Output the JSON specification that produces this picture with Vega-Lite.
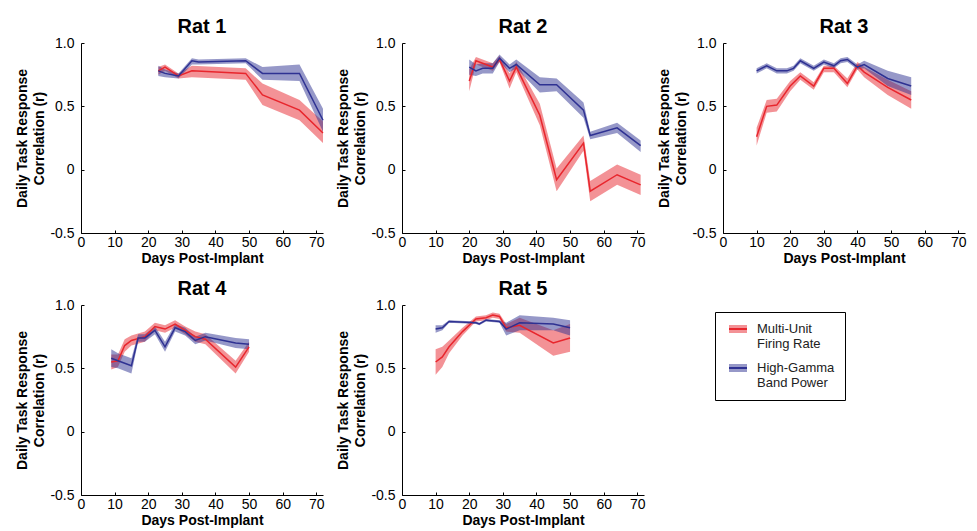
{
  "$schema": "https://vega.github.io/schema/vega-lite/v6.json",
  "background": "white",
  "padding": {"left": 15, "top": 17, "right": 5, "bottom": 2},
  "bounds": "flush",
  "columns": 3,
  "spacing": {"row": 72, "column": 79},
  "data": {"values": [
    {"rat":"Rat 1","series":"Multi-Unit Firing Rate","day":23,"r":0.78,"lo":0.75,"hi":0.81},
    {"rat":"Rat 1","series":"Multi-Unit Firing Rate","day":25,"r":0.81,"lo":0.78,"hi":0.83},
    {"rat":"Rat 1","series":"Multi-Unit Firing Rate","day":29,"r":0.74,"lo":0.72,"hi":0.76},
    {"rat":"Rat 1","series":"Multi-Unit Firing Rate","day":33,"r":0.78,"lo":0.73,"hi":0.82},
    {"rat":"Rat 1","series":"Multi-Unit Firing Rate","day":49,"r":0.76,"lo":0.71,"hi":0.80},
    {"rat":"Rat 1","series":"Multi-Unit Firing Rate","day":54,"r":0.59,"lo":0.51,"hi":0.68},
    {"rat":"Rat 1","series":"Multi-Unit Firing Rate","day":65,"r":0.47,"lo":0.39,"hi":0.55},
    {"rat":"Rat 1","series":"Multi-Unit Firing Rate","day":72,"r":0.29,"lo":0.21,"hi":0.38},
    {"rat":"Rat 1","series":"High-Gamma Band Power","day":23,"r":0.78,"lo":0.74,"hi":0.82},
    {"rat":"Rat 1","series":"High-Gamma Band Power","day":25,"r":0.76,"lo":0.73,"hi":0.79},
    {"rat":"Rat 1","series":"High-Gamma Band Power","day":29,"r":0.74,"lo":0.72,"hi":0.76},
    {"rat":"Rat 1","series":"High-Gamma Band Power","day":33,"r":0.86,"lo":0.83,"hi":0.88},
    {"rat":"Rat 1","series":"High-Gamma Band Power","day":35,"r":0.85,"lo":0.83,"hi":0.87},
    {"rat":"Rat 1","series":"High-Gamma Band Power","day":49,"r":0.86,"lo":0.84,"hi":0.88},
    {"rat":"Rat 1","series":"High-Gamma Band Power","day":54,"r":0.76,"lo":0.71,"hi":0.81},
    {"rat":"Rat 1","series":"High-Gamma Band Power","day":65,"r":0.76,"lo":0.70,"hi":0.83},
    {"rat":"Rat 1","series":"High-Gamma Band Power","day":72,"r":0.39,"lo":0.30,"hi":0.48},

    {"rat":"Rat 2","series":"Multi-Unit Firing Rate","day":20,"r":0.70,"lo":0.62,"hi":0.79},
    {"rat":"Rat 2","series":"Multi-Unit Firing Rate","day":22,"r":0.86,"lo":0.83,"hi":0.89},
    {"rat":"Rat 2","series":"Multi-Unit Firing Rate","day":27,"r":0.81,"lo":0.78,"hi":0.84},
    {"rat":"Rat 2","series":"Multi-Unit Firing Rate","day":29,"r":0.87,"lo":0.85,"hi":0.90},
    {"rat":"Rat 2","series":"Multi-Unit Firing Rate","day":32,"r":0.70,"lo":0.64,"hi":0.76},
    {"rat":"Rat 2","series":"Multi-Unit Firing Rate","day":34,"r":0.81,"lo":0.77,"hi":0.85},
    {"rat":"Rat 2","series":"Multi-Unit Firing Rate","day":41,"r":0.43,"lo":0.35,"hi":0.52},
    {"rat":"Rat 2","series":"Multi-Unit Firing Rate","day":46,"r":-0.08,"lo":-0.17,"hi":0.01},
    {"rat":"Rat 2","series":"Multi-Unit Firing Rate","day":54,"r":0.21,"lo":0.15,"hi":0.27},
    {"rat":"Rat 2","series":"Multi-Unit Firing Rate","day":56,"r":-0.17,"lo":-0.25,"hi":-0.09},
    {"rat":"Rat 2","series":"Multi-Unit Firing Rate","day":64,"r":-0.04,"lo":-0.12,"hi":0.04},
    {"rat":"Rat 2","series":"Multi-Unit Firing Rate","day":71,"r":-0.12,"lo":-0.20,"hi":-0.04},
    {"rat":"Rat 2","series":"High-Gamma Band Power","day":20,"r":0.81,"lo":0.75,"hi":0.87},
    {"rat":"Rat 2","series":"High-Gamma Band Power","day":22,"r":0.78,"lo":0.74,"hi":0.83},
    {"rat":"Rat 2","series":"High-Gamma Band Power","day":24,"r":0.80,"lo":0.76,"hi":0.84},
    {"rat":"Rat 2","series":"High-Gamma Band Power","day":27,"r":0.80,"lo":0.76,"hi":0.84},
    {"rat":"Rat 2","series":"High-Gamma Band Power","day":29,"r":0.88,"lo":0.85,"hi":0.91},
    {"rat":"Rat 2","series":"High-Gamma Band Power","day":32,"r":0.80,"lo":0.77,"hi":0.83},
    {"rat":"Rat 2","series":"High-Gamma Band Power","day":34,"r":0.83,"lo":0.80,"hi":0.87},
    {"rat":"Rat 2","series":"High-Gamma Band Power","day":41,"r":0.67,"lo":0.61,"hi":0.73},
    {"rat":"Rat 2","series":"High-Gamma Band Power","day":46,"r":0.67,"lo":0.62,"hi":0.72},
    {"rat":"Rat 2","series":"High-Gamma Band Power","day":54,"r":0.47,"lo":0.41,"hi":0.53},
    {"rat":"Rat 2","series":"High-Gamma Band Power","day":56,"r":0.27,"lo":0.24,"hi":0.30},
    {"rat":"Rat 2","series":"High-Gamma Band Power","day":64,"r":0.33,"lo":0.29,"hi":0.37},
    {"rat":"Rat 2","series":"High-Gamma Band Power","day":71,"r":0.19,"lo":0.14,"hi":0.23},

    {"rat":"Rat 3","series":"Multi-Unit Firing Rate","day":10,"r":0.26,"lo":0.19,"hi":0.33},
    {"rat":"Rat 3","series":"Multi-Unit Firing Rate","day":13,"r":0.50,"lo":0.45,"hi":0.55},
    {"rat":"Rat 3","series":"Multi-Unit Firing Rate","day":16,"r":0.51,"lo":0.46,"hi":0.56},
    {"rat":"Rat 3","series":"Multi-Unit Firing Rate","day":20,"r":0.66,"lo":0.62,"hi":0.70},
    {"rat":"Rat 3","series":"Multi-Unit Firing Rate","day":23,"r":0.74,"lo":0.71,"hi":0.77},
    {"rat":"Rat 3","series":"Multi-Unit Firing Rate","day":27,"r":0.66,"lo":0.63,"hi":0.69},
    {"rat":"Rat 3","series":"Multi-Unit Firing Rate","day":30,"r":0.80,"lo":0.77,"hi":0.82},
    {"rat":"Rat 3","series":"Multi-Unit Firing Rate","day":33,"r":0.80,"lo":0.77,"hi":0.82},
    {"rat":"Rat 3","series":"Multi-Unit Firing Rate","day":37,"r":0.68,"lo":0.65,"hi":0.72},
    {"rat":"Rat 3","series":"Multi-Unit Firing Rate","day":40,"r":0.82,"lo":0.79,"hi":0.85},
    {"rat":"Rat 3","series":"Multi-Unit Firing Rate","day":42,"r":0.77,"lo":0.73,"hi":0.81},
    {"rat":"Rat 3","series":"Multi-Unit Firing Rate","day":49,"r":0.65,"lo":0.59,"hi":0.71},
    {"rat":"Rat 3","series":"Multi-Unit Firing Rate","day":56,"r":0.55,"lo":0.48,"hi":0.62},
    {"rat":"Rat 3","series":"High-Gamma Band Power","day":10,"r":0.78,"lo":0.76,"hi":0.80},
    {"rat":"Rat 3","series":"High-Gamma Band Power","day":13,"r":0.82,"lo":0.80,"hi":0.84},
    {"rat":"Rat 3","series":"High-Gamma Band Power","day":16,"r":0.78,"lo":0.76,"hi":0.80},
    {"rat":"Rat 3","series":"High-Gamma Band Power","day":19,"r":0.78,"lo":0.76,"hi":0.80},
    {"rat":"Rat 3","series":"High-Gamma Band Power","day":21,"r":0.80,"lo":0.78,"hi":0.82},
    {"rat":"Rat 3","series":"High-Gamma Band Power","day":23,"r":0.86,"lo":0.84,"hi":0.88},
    {"rat":"Rat 3","series":"High-Gamma Band Power","day":27,"r":0.80,"lo":0.78,"hi":0.82},
    {"rat":"Rat 3","series":"High-Gamma Band Power","day":30,"r":0.85,"lo":0.83,"hi":0.87},
    {"rat":"Rat 3","series":"High-Gamma Band Power","day":33,"r":0.82,"lo":0.80,"hi":0.84},
    {"rat":"Rat 3","series":"High-Gamma Band Power","day":35,"r":0.86,"lo":0.84,"hi":0.88},
    {"rat":"Rat 3","series":"High-Gamma Band Power","day":37,"r":0.87,"lo":0.85,"hi":0.89},
    {"rat":"Rat 3","series":"High-Gamma Band Power","day":40,"r":0.81,"lo":0.79,"hi":0.83},
    {"rat":"Rat 3","series":"High-Gamma Band Power","day":42,"r":0.83,"lo":0.80,"hi":0.86},
    {"rat":"Rat 3","series":"High-Gamma Band Power","day":49,"r":0.72,"lo":0.66,"hi":0.78},
    {"rat":"Rat 3","series":"High-Gamma Band Power","day":56,"r":0.66,"lo":0.59,"hi":0.73},

    {"rat":"Rat 4","series":"Multi-Unit Firing Rate","day":9,"r":0.55,"lo":0.49,"hi":0.61},
    {"rat":"Rat 4","series":"Multi-Unit Firing Rate","day":11,"r":0.56,"lo":0.51,"hi":0.61},
    {"rat":"Rat 4","series":"Multi-Unit Firing Rate","day":13,"r":0.68,"lo":0.63,"hi":0.73},
    {"rat":"Rat 4","series":"Multi-Unit Firing Rate","day":15,"r":0.72,"lo":0.68,"hi":0.76},
    {"rat":"Rat 4","series":"Multi-Unit Firing Rate","day":19,"r":0.75,"lo":0.71,"hi":0.79},
    {"rat":"Rat 4","series":"Multi-Unit Firing Rate","day":22,"r":0.83,"lo":0.80,"hi":0.86},
    {"rat":"Rat 4","series":"Multi-Unit Firing Rate","day":25,"r":0.81,"lo":0.78,"hi":0.84},
    {"rat":"Rat 4","series":"Multi-Unit Firing Rate","day":28,"r":0.85,"lo":0.82,"hi":0.88},
    {"rat":"Rat 4","series":"Multi-Unit Firing Rate","day":31,"r":0.80,"lo":0.77,"hi":0.83},
    {"rat":"Rat 4","series":"Multi-Unit Firing Rate","day":34,"r":0.75,"lo":0.71,"hi":0.79},
    {"rat":"Rat 4","series":"Multi-Unit Firing Rate","day":37,"r":0.73,"lo":0.69,"hi":0.77},
    {"rat":"Rat 4","series":"Multi-Unit Firing Rate","day":46,"r":0.51,"lo":0.46,"hi":0.56},
    {"rat":"Rat 4","series":"Multi-Unit Firing Rate","day":50,"r":0.67,"lo":0.63,"hi":0.71},
    {"rat":"Rat 4","series":"High-Gamma Band Power","day":9,"r":0.58,"lo":0.51,"hi":0.65},
    {"rat":"Rat 4","series":"High-Gamma Band Power","day":11,"r":0.56,"lo":0.50,"hi":0.62},
    {"rat":"Rat 4","series":"High-Gamma Band Power","day":15,"r":0.52,"lo":0.46,"hi":0.58},
    {"rat":"Rat 4","series":"High-Gamma Band Power","day":17,"r":0.74,"lo":0.71,"hi":0.77},
    {"rat":"Rat 4","series":"High-Gamma Band Power","day":19,"r":0.74,"lo":0.71,"hi":0.77},
    {"rat":"Rat 4","series":"High-Gamma Band Power","day":22,"r":0.80,"lo":0.77,"hi":0.83},
    {"rat":"Rat 4","series":"High-Gamma Band Power","day":25,"r":0.67,"lo":0.63,"hi":0.71},
    {"rat":"Rat 4","series":"High-Gamma Band Power","day":28,"r":0.82,"lo":0.79,"hi":0.85},
    {"rat":"Rat 4","series":"High-Gamma Band Power","day":31,"r":0.79,"lo":0.76,"hi":0.82},
    {"rat":"Rat 4","series":"High-Gamma Band Power","day":34,"r":0.72,"lo":0.69,"hi":0.75},
    {"rat":"Rat 4","series":"High-Gamma Band Power","day":37,"r":0.75,"lo":0.72,"hi":0.78},
    {"rat":"Rat 4","series":"High-Gamma Band Power","day":46,"r":0.70,"lo":0.66,"hi":0.74},
    {"rat":"Rat 4","series":"High-Gamma Band Power","day":50,"r":0.69,"lo":0.65,"hi":0.73},

    {"rat":"Rat 5","series":"Multi-Unit Firing Rate","day":10,"r":0.55,"lo":0.45,"hi":0.65},
    {"rat":"Rat 5","series":"Multi-Unit Firing Rate","day":12,"r":0.59,"lo":0.51,"hi":0.67},
    {"rat":"Rat 5","series":"Multi-Unit Firing Rate","day":14,"r":0.67,"lo":0.62,"hi":0.72},
    {"rat":"Rat 5","series":"Multi-Unit Firing Rate","day":18,"r":0.79,"lo":0.76,"hi":0.82},
    {"rat":"Rat 5","series":"Multi-Unit Firing Rate","day":22,"r":0.89,"lo":0.87,"hi":0.91},
    {"rat":"Rat 5","series":"Multi-Unit Firing Rate","day":25,"r":0.90,"lo":0.88,"hi":0.92},
    {"rat":"Rat 5","series":"Multi-Unit Firing Rate","day":27,"r":0.92,"lo":0.90,"hi":0.94},
    {"rat":"Rat 5","series":"Multi-Unit Firing Rate","day":29,"r":0.91,"lo":0.89,"hi":0.93},
    {"rat":"Rat 5","series":"Multi-Unit Firing Rate","day":31,"r":0.82,"lo":0.79,"hi":0.85},
    {"rat":"Rat 5","series":"Multi-Unit Firing Rate","day":35,"r":0.84,"lo":0.78,"hi":0.90},
    {"rat":"Rat 5","series":"Multi-Unit Firing Rate","day":45,"r":0.70,"lo":0.60,"hi":0.80},
    {"rat":"Rat 5","series":"Multi-Unit Firing Rate","day":50,"r":0.74,"lo":0.63,"hi":0.85},
    {"rat":"Rat 5","series":"High-Gamma Band Power","day":10,"r":0.81,"lo":0.78,"hi":0.84},
    {"rat":"Rat 5","series":"High-Gamma Band Power","day":12,"r":0.82,"lo":0.80,"hi":0.84},
    {"rat":"Rat 5","series":"High-Gamma Band Power","day":14,"r":0.87,"lo":0.86,"hi":0.88},
    {"rat":"Rat 5","series":"High-Gamma Band Power","day":22,"r":0.86,"lo":0.85,"hi":0.87},
    {"rat":"Rat 5","series":"High-Gamma Band Power","day":23,"r":0.85,"lo":0.84,"hi":0.86},
    {"rat":"Rat 5","series":"High-Gamma Band Power","day":25,"r":0.88,"lo":0.87,"hi":0.89},
    {"rat":"Rat 5","series":"High-Gamma Band Power","day":29,"r":0.87,"lo":0.86,"hi":0.88},
    {"rat":"Rat 5","series":"High-Gamma Band Power","day":31,"r":0.81,"lo":0.76,"hi":0.86},
    {"rat":"Rat 5","series":"High-Gamma Band Power","day":35,"r":0.86,"lo":0.80,"hi":0.92},
    {"rat":"Rat 5","series":"High-Gamma Band Power","day":45,"r":0.85,"lo":0.80,"hi":0.90},
    {"rat":"Rat 5","series":"High-Gamma Band Power","day":50,"r":0.82,"lo":0.76,"hi":0.88}
  ]},
  "concat": [
    {
      "width": 242, "height": 190, "title": "Rat 1",
      "transform": [{"filter": "datum.rat == 'Rat 1'"}],
      "encoding": {"x": {"field": "day", "type": "quantitative", "scale": {"domain": [0, 72], "nice": false, "zero": false}, "axis": {"title": "Days Post-Implant", "values": [0,10,20,30,40,50,60,70], "labelFlush": false}}},
      "layer": [
        {"mark": {"type": "area"}, "encoding": {
          "y": {"field": "lo", "type": "quantitative", "scale": {"domain": [-0.5, 1.0], "nice": false}, "axis": {"title": ["Daily Task Response", "Correlation (r)"], "values": [-0.5, 0, 0.5, 1], "labelExpr": "datum.value == 1 ? '1.0' : datum.value == 0.5 ? '0.5' : datum.value == 0 ? '0' : '-0.5'"}},
          "y2": {"field": "hi"},
          "fill": {"field": "series", "type": "nominal", "scale": {"domain": ["Multi-Unit Firing Rate", "High-Gamma Band Power"], "range": ["#e8262d", "#2e3192"]}, "legend": {"orient": "none", "legendX": 634, "legendY": 269, "title": null, "symbolType": "M-1.5,0L1.5,0L1.5,-0.65L-1.5,-0.65L-1.5,0.65L1.5,0.65L1.5,0", "symbolSize": 144, "symbolStrokeWidth": 2, "symbolDash": [18, 300], "symbolOffset": 6, "labelExpr": "datum.label == 'Multi-Unit Firing Rate' ? ['Multi-Unit', 'Firing Rate'] : ['High-Gamma', 'Band Power']"}}
        }},
        {"mark": {"type": "line", "strokeWidth": 1.5}, "encoding": {
          "y": {"field": "r", "type": "quantitative", "scale": {"domain": [-0.5, 1.0], "nice": false}, "axis": {"title": ["Daily Task Response", "Correlation (r)"], "values": [-0.5, 0, 0.5, 1], "labelExpr": "datum.value == 1 ? '1.0' : datum.value == 0.5 ? '0.5' : datum.value == 0 ? '0' : '-0.5'"}},
          "stroke": {"field": "series", "type": "nominal", "scale": {"domain": ["Multi-Unit Firing Rate", "High-Gamma Band Power"], "range": ["#e8262d", "#2e3192"]}, "legend": {"orient": "none", "legendX": 634, "legendY": 269, "title": null, "symbolType": "M-1.5,0L1.5,0L1.5,-0.65L-1.5,-0.65L-1.5,0.65L1.5,0.65L1.5,0", "symbolSize": 144, "symbolStrokeWidth": 2, "symbolDash": [18, 300], "symbolOffset": 6, "labelExpr": "datum.label == 'Multi-Unit Firing Rate' ? ['Multi-Unit', 'Firing Rate'] : ['High-Gamma', 'Band Power']"}}
        }}
      ]
    },
    {
      "width": 242, "height": 190, "title": "Rat 2",
      "transform": [{"filter": "datum.rat == 'Rat 2'"}],
      "encoding": {"x": {"field": "day", "type": "quantitative", "scale": {"domain": [0, 72], "nice": false, "zero": false}, "axis": {"title": "Days Post-Implant", "values": [0,10,20,30,40,50,60,70], "labelFlush": false}}},
      "layer": [
        {"mark": {"type": "area"}, "encoding": {
          "y": {"field": "lo", "type": "quantitative", "scale": {"domain": [-0.5, 1.0], "nice": false}, "axis": {"title": ["Daily Task Response", "Correlation (r)"], "values": [-0.5, 0, 0.5, 1], "labelExpr": "datum.value == 1 ? '1.0' : datum.value == 0.5 ? '0.5' : datum.value == 0 ? '0' : '-0.5'"}},
          "y2": {"field": "hi"},
          "fill": {"field": "series", "type": "nominal", "legend": null}
        }},
        {"mark": {"type": "line", "strokeWidth": 1.5}, "encoding": {
          "y": {"field": "r", "type": "quantitative", "scale": {"domain": [-0.5, 1.0], "nice": false}, "axis": {"title": ["Daily Task Response", "Correlation (r)"], "values": [-0.5, 0, 0.5, 1], "labelExpr": "datum.value == 1 ? '1.0' : datum.value == 0.5 ? '0.5' : datum.value == 0 ? '0' : '-0.5'"}},
          "stroke": {"field": "series", "type": "nominal", "legend": null}
        }}
      ]
    },
    {
      "width": 242, "height": 190, "title": "Rat 3",
      "transform": [{"filter": "datum.rat == 'Rat 3'"}],
      "encoding": {"x": {"field": "day", "type": "quantitative", "scale": {"domain": [0, 72], "nice": false, "zero": false}, "axis": {"title": "Days Post-Implant", "values": [0,10,20,30,40,50,60,70], "labelFlush": false}}},
      "layer": [
        {"mark": {"type": "area"}, "encoding": {
          "y": {"field": "lo", "type": "quantitative", "scale": {"domain": [-0.5, 1.0], "nice": false}, "axis": {"title": ["Daily Task Response", "Correlation (r)"], "values": [-0.5, 0, 0.5, 1], "labelExpr": "datum.value == 1 ? '1.0' : datum.value == 0.5 ? '0.5' : datum.value == 0 ? '0' : '-0.5'"}},
          "y2": {"field": "hi"},
          "fill": {"field": "series", "type": "nominal", "legend": null}
        }},
        {"mark": {"type": "line", "strokeWidth": 1.5}, "encoding": {
          "y": {"field": "r", "type": "quantitative", "scale": {"domain": [-0.5, 1.0], "nice": false}, "axis": {"title": ["Daily Task Response", "Correlation (r)"], "values": [-0.5, 0, 0.5, 1], "labelExpr": "datum.value == 1 ? '1.0' : datum.value == 0.5 ? '0.5' : datum.value == 0 ? '0' : '-0.5'"}},
          "stroke": {"field": "series", "type": "nominal", "legend": null}
        }}
      ]
    },
    {
      "width": 242, "height": 190, "title": "Rat 4",
      "transform": [{"filter": "datum.rat == 'Rat 4'"}],
      "encoding": {"x": {"field": "day", "type": "quantitative", "scale": {"domain": [0, 72], "nice": false, "zero": false}, "axis": {"title": "Days Post-Implant", "values": [0,10,20,30,40,50,60,70], "labelFlush": false}}},
      "layer": [
        {"mark": {"type": "area"}, "encoding": {
          "y": {"field": "lo", "type": "quantitative", "scale": {"domain": [-0.5, 1.0], "nice": false}, "axis": {"title": ["Daily Task Response", "Correlation (r)"], "values": [-0.5, 0, 0.5, 1], "labelExpr": "datum.value == 1 ? '1.0' : datum.value == 0.5 ? '0.5' : datum.value == 0 ? '0' : '-0.5'"}},
          "y2": {"field": "hi"},
          "fill": {"field": "series", "type": "nominal", "legend": null}
        }},
        {"mark": {"type": "line", "strokeWidth": 1.5}, "encoding": {
          "y": {"field": "r", "type": "quantitative", "scale": {"domain": [-0.5, 1.0], "nice": false}, "axis": {"title": ["Daily Task Response", "Correlation (r)"], "values": [-0.5, 0, 0.5, 1], "labelExpr": "datum.value == 1 ? '1.0' : datum.value == 0.5 ? '0.5' : datum.value == 0 ? '0' : '-0.5'"}},
          "stroke": {"field": "series", "type": "nominal", "legend": null}
        }}
      ]
    },
    {
      "width": 242, "height": 190, "title": "Rat 5",
      "transform": [{"filter": "datum.rat == 'Rat 5'"}],
      "encoding": {"x": {"field": "day", "type": "quantitative", "scale": {"domain": [0, 72], "nice": false, "zero": false}, "axis": {"title": "Days Post-Implant", "values": [0,10,20,30,40,50,60,70], "labelFlush": false}}},
      "layer": [
        {"mark": {"type": "area"}, "encoding": {
          "y": {"field": "lo", "type": "quantitative", "scale": {"domain": [-0.5, 1.0], "nice": false}, "axis": {"title": ["Daily Task Response", "Correlation (r)"], "values": [-0.5, 0, 0.5, 1], "labelExpr": "datum.value == 1 ? '1.0' : datum.value == 0.5 ? '0.5' : datum.value == 0 ? '0' : '-0.5'"}},
          "y2": {"field": "hi"},
          "fill": {"field": "series", "type": "nominal", "legend": null}
        }},
        {"mark": {"type": "line", "strokeWidth": 1.5}, "encoding": {
          "y": {"field": "r", "type": "quantitative", "scale": {"domain": [-0.5, 1.0], "nice": false}, "axis": {"title": ["Daily Task Response", "Correlation (r)"], "values": [-0.5, 0, 0.5, 1], "labelExpr": "datum.value == 1 ? '1.0' : datum.value == 0.5 ? '0.5' : datum.value == 0 ? '0' : '-0.5'"}},
          "stroke": {"field": "series", "type": "nominal", "legend": null}
        }}
      ]
    }
  ],
  "config": {
    "view": {"stroke": null},
    "font": "Liberation Sans",
    "area": {"fillOpacity": 0.5},
    "title": {"font": "Liberation Sans", "fontSize": 20, "fontWeight": "bold", "color": "black", "anchor": "middle", "frame": "group", "offset": -1},
    "axis": {"domainColor": "black", "domainWidth": 1, "tickColor": "black", "tickSize": -3, "tickWidth": 1, "labelColor": "black", "titleColor": "black", "labelFont": "Liberation Sans", "labelFontSize": 14, "titleFont": "Liberation Sans", "titleFontSize": 14, "titleFontWeight": "bold", "grid": false, "labelOverlap": false, "labelFlush": false},
    "axisX": {"labelPadding": 5, "titlePadding": 2},
    "axisY": {"labelPadding": 10, "titlePadding": 3, "titleLineHeight": 17},
    "legend": {"labelFont": "Liberation Sans", "labelFontSize": 13, "labelColor": "#222222", "labelBaseline": "middle", "labelOffset": 12, "padding": 10, "strokeColor": "black", "fillColor": "white", "rowPadding": 9}
  }
}
